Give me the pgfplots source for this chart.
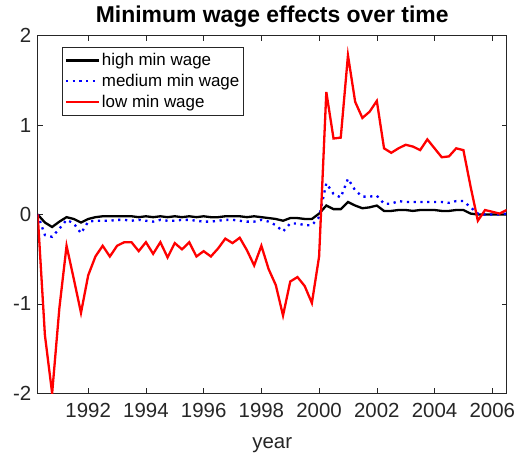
\documentclass[border=0pt]{standalone}
\usepackage{pgfplots}
\pgfplotsset{compat=1.18}
\usepackage{pgfplotstable}
\usepackage{fontspec}
\setmainfont{Liberation Sans}
\definecolor{axgray}{HTML}{262626}
\pgfplotstableread{
x high medium low
1990.25 0.00 0.00 0.00
1990.50 -0.09 -0.23 -1.35
1990.75 -0.14 -0.25 -2.00
1991.00 -0.08 -0.16 -1.05
1991.25 -0.03 -0.06 -0.35
1991.50 -0.05 -0.10 -0.72
1991.75 -0.09 -0.21 -1.10
1992.00 -0.05 -0.08 -0.68
1992.25 -0.03 -0.07 -0.47
1992.50 -0.02 -0.07 -0.35
1992.75 -0.02 -0.07 -0.47
1993.00 -0.02 -0.06 -0.35
1993.25 -0.02 -0.06 -0.31
1993.50 -0.02 -0.07 -0.31
1993.75 -0.03 -0.06 -0.41
1994.00 -0.02 -0.07 -0.31
1994.25 -0.03 -0.08 -0.44
1994.50 -0.02 -0.06 -0.31
1994.75 -0.03 -0.07 -0.48
1995.00 -0.02 -0.07 -0.32
1995.25 -0.03 -0.06 -0.39
1995.50 -0.02 -0.06 -0.31
1995.75 -0.03 -0.07 -0.47
1996.00 -0.02 -0.08 -0.41
1996.25 -0.03 -0.08 -0.47
1996.50 -0.03 -0.07 -0.38
1996.75 -0.02 -0.06 -0.27
1997.00 -0.02 -0.06 -0.32
1997.25 -0.02 -0.07 -0.26
1997.50 -0.03 -0.08 -0.40
1997.75 -0.02 -0.08 -0.57
1998.00 -0.03 -0.06 -0.35
1998.25 -0.04 -0.08 -0.61
1998.50 -0.05 -0.12 -0.79
1998.75 -0.07 -0.19 -1.13
1999.00 -0.04 -0.10 -0.75
1999.25 -0.04 -0.10 -0.70
1999.50 -0.05 -0.12 -0.80
1999.75 -0.05 -0.12 -0.99
2000.00 0.01 -0.03 -0.47
2000.25 0.10 0.35 1.37
2000.50 0.06 0.23 0.85
2000.75 0.06 0.19 0.86
2001.00 0.14 0.40 1.78
2001.25 0.10 0.27 1.26
2001.50 0.07 0.20 1.08
2001.75 0.08 0.20 1.15
2002.00 0.10 0.21 1.27
2002.25 0.04 0.12 0.74
2002.50 0.04 0.12 0.69
2002.75 0.05 0.15 0.74
2003.00 0.05 0.14 0.78
2003.25 0.04 0.14 0.76
2003.50 0.05 0.14 0.72
2003.75 0.05 0.14 0.84
2004.00 0.05 0.14 0.74
2004.25 0.04 0.14 0.64
2004.50 0.04 0.13 0.65
2004.75 0.05 0.15 0.74
2005.00 0.05 0.15 0.72
2005.25 0.01 0.08 0.31
2005.50 0.00 0.01 -0.07
2005.75 0.00 0.00 0.05
2006.00 0.00 0.00 0.03
2006.25 0.00 0.00 0.01
2006.50 0.00 0.01 0.05
}\datatable
\begin{document}
\begin{tikzpicture}
\begin{axis}[
  scale only axis,
  width=469bp, height=357.6bp,
  xmin=1990.25, xmax=2006.5, ymin=-2, ymax=2,
  xtick={1992,1994,1996,1998,2000,2002,2004,2006},
  ytick={-2,-1,0,1,2},
  tick align=inside,
  major tick length=5bp,
  axis line style={color=axgray, line width=0.6bp},
  every tick/.style={color=axgray, line width=0.6bp},
  tick label style={font=\fontsize{20.5}{24}\selectfont, text=axgray},
  xticklabel style={yshift=-6bp},
  yticklabel style={xshift=-3bp},
  /pgf/number format/assume math mode=true,
  /pgf/number format/1000 sep={},
  xlabel={year},
  xlabel style={font=\fontsize{20.5}{24}\selectfont, text=axgray, yshift=-13bp},
  title={Minimum wage effects over time},
  title style={font=\bfseries\fontsize{23}{27}\selectfont, yshift=-1bp},
  legend cell align=left,
  legend style={at={(0.0525,0.9676)}, anchor=north west, draw=axgray, line width=0.6bp,
    fill=white, font=\fontsize{17}{20}\selectfont,
    inner xsep=2bp, inner ysep=4bp, row sep=3bp},
  legend image code/.code={\draw[#1] (0bp,0bp) -- (33bp,0bp);},
]
\addplot[black, line width=2.3bp] table[x=x, y=high] {\datatable};
\addlegendentry{high min wage}
\addplot[blue, line width=2.3bp, dash pattern=on 2.2bp off 4.6bp] table[x=x, y=medium] {\datatable};
\addlegendentry{medium min wage}
\addplot[red, line width=2.3bp] table[x=x, y=low] {\datatable};
\addlegendentry{low min wage}
\end{axis}
\pgfresetboundingbox
\path[use as bounding box] ([xshift=-37.7bp,yshift=-61.7bp]current axis.south west) rectangle ([xshift=9.3bp,yshift=35.7bp]current axis.north east);
\end{tikzpicture}
\end{document}
